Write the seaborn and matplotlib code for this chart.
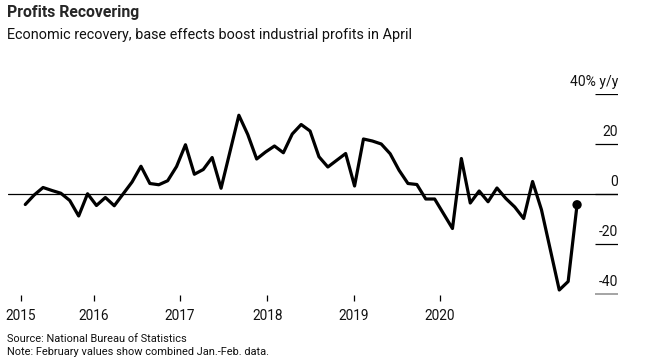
import matplotlib
matplotlib.use("Agg")
import numpy as np
import pandas as pd
import matplotlib.pyplot as plt
import seaborn as sns

# Industrial profits, % y/y (Jan. folded into Feb.)
months = (
    ["2015-%02d" % m for m in range(2, 13)]
    + ["2016-%02d" % m for m in range(2, 13)]
    + ["2017-%02d" % m for m in range(2, 13)]
    + ["2018-%02d" % m for m in range(2, 13)]
    + ["2019-%02d" % m for m in range(2, 13)]
    + ["2020-02", "2020-03", "2020-04"]
)
profits_yoy = [
    -4.2, -0.4, 2.6, 1.4, 0.3, -2.6, -8.8, 0.1, -4.6, -1.4, -4.7,
    4.8, 11.1, 4.2, 3.7, 5.3, 11.0, 19.7, 7.9, 9.8, 14.6, 2.3,
    31.5, 23.8, 14.0, 16.8, 19.2, 16.5, 24.0, 27.8, 25.2, 14.9, 10.8,
    16.2, 3.2, 22.0, 21.2, 20.0, 16.1, 9.5, 4.2, 3.8, -2.0, -2.0,
    -13.8, 14.2, -3.6, 1.2, -3.1, 2.4, -1.8, -5.2, -9.8, 5.0, -6.3,
    -38.4, -35.0, -4.3,
]

year_labels = ["2015", "2016", "2017", "2018", "2019", "2020"]
year_tick_pos = [0.5, 8.7, 18.4, 28.2, 37.9, 47.6]  # month index where the original puts them
y_levels = [40, 20, 0, -20, -40]
y_level_labels = ["40% y/y", "20", "0", "-20", "-40"]

df = pd.DataFrame({"month": pd.to_datetime(months), "profit": profits_yoy})
df["idx"] = (df["month"].dt.year - 2015) * 12 + df["month"].dt.month - 1

sns.set_theme(style="white")
plt.rcParams["font.family"] = ["Roboto", "DejaVu Sans"]

fig = plt.figure(figsize=(6.45, 3.61), dpi=100)
ax = fig.add_axes([8 / 645, 1 - 295 / 361, 610 / 645, 201 / 361])

ax.axhline(0, color="black", lw=0.9, zorder=1)
sns.lineplot(data=df, x="idx", y="profit", color="black", lw=2.3, ax=ax, zorder=3)
sns.scatterplot(data=df.tail(1), x="idx", y="profit", color="black", s=45,
                edgecolor="none", ax=ax, zorder=4)

ax.set_xlim(-0.94, 67.6)
ax.set_ylim(-40.4, 40)

# short right-side gridlines with labels sitting on them
ytr = ax.get_yaxis_transform()
for lvl, lab in zip(y_levels, y_level_labels):
    c = "#8c8c8c" if lvl == -40 else "black"
    ax.hlines(lvl, 0.962, 1.0, transform=ytr, color=c, lw=1.1 if lvl == -40 else 0.9)
    ax.text(1.0, lvl + 3.3, lab, transform=ytr, ha="right", va="baseline",
            fontsize=10, color="#111111")

ax.set_xticks(year_tick_pos)
ax.set_xticklabels(year_labels, fontsize=9.8)
ax.tick_params(axis="x", bottom=True, length=4, width=0.9, color="black", pad=6,
               direction="out", labelcolor="#111111")
ax.set_yticks([])
ax.set_xlabel("")
ax.set_ylabel("")
for s in ax.spines.values():
    s.set_visible(False)
ax.patch.set_alpha(0)

fig.text(7 / 645, 1 - 17 / 361, "Profits Recovering", fontsize=11.3,
         fontweight="bold", va="baseline")
fig.text(7 / 645, 1 - 38.5 / 361,
         "Economic recovery, base effects boost industrial profits in April",
         fontsize=10.4, va="baseline", color="#111111")
fig.text(7 / 645, 1 - 341.5 / 361, "Source: National Bureau of Statistics",
         fontsize=7.9, va="baseline", color="#111111")
fig.text(7 / 645, 1 - 355 / 361,
         "Note: February values show combined Jan.-Feb. data.",
         fontsize=7.9, va="baseline", color="#111111")

fig.savefig("out.png", dpi=100)
